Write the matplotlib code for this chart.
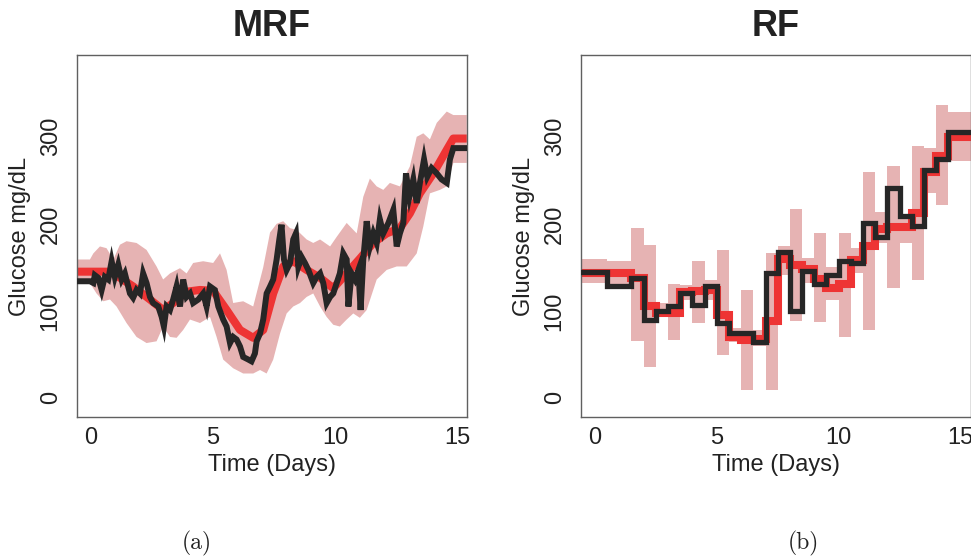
import matplotlib
matplotlib.use("Agg")
import numpy as np
import matplotlib.pyplot as plt

plt.rcParams["font.family"] = ["Liberation Sans", "DejaVu Sans"]

# MRF: smoothed mean, credible band (upper / lower edges), observed glucose
mrf_mean_t = [-0.59, 0.78, 1.19, 1.73, 2.42, 2.96, 3.37, 3.92, 4.47, 5.01,
              5.56, 6.11, 6.65, 7.06, 7.47, 7.88, 8.29, 8.84, 9.39, 9.93,
              10.48, 11.02, 11.57, 12.12, 12.66, 13.07, 13.48, 14.03, 14.58,
              14.85, 15.40]
mrf_mean = [145, 145, 138, 128, 113, 101, 109, 122, 124, 123,
            101, 78, 69, 78, 120, 151, 157, 147, 138, 126,
            143, 160, 178, 189, 195, 212, 235, 258, 285, 298, 298]

mrf_upper_t = [-0.59, -0.04, 0.10, 0.37, 0.64, 0.92, 1.19, 1.46, 1.87, 2.28,
               2.69, 2.96, 3.24, 3.65, 3.92, 4.19, 4.60, 5.01, 5.29, 5.56,
               5.83, 6.24, 6.65, 7.06, 7.34, 7.61, 7.88, 8.16, 8.43, 8.84,
               9.11, 9.39, 9.80, 10.07, 10.48, 10.89, 11.16, 11.43, 11.71, 11.98,
               12.25, 12.66, 13.07, 13.35, 13.62, 13.89, 14.17, 14.58, 14.85, 15.40]
mrf_upper = [159, 159, 166, 174, 172, 159, 176, 180, 178, 170,
             151, 136, 143, 149, 143, 155, 157, 155, 166, 147,
             109, 111, 105, 150, 190, 200, 203, 195, 193, 182,
             178, 182, 174, 185, 201, 189, 231, 252, 243, 239,
             247, 243, 266, 300, 304, 297, 316, 329, 325, 325]

mrf_lower_t = [-0.59, -0.04, 0.23, 0.51, 0.78, 1.05, 1.46, 1.87, 2.28, 2.69,
               2.96, 3.24, 3.51, 3.78, 4.06, 4.47, 4.88, 5.15, 5.42, 5.83,
               6.24, 6.65, 6.93, 7.20, 7.47, 7.75, 8.02, 8.29, 8.57, 8.84,
               9.11, 9.39, 9.66, 9.93, 10.20, 10.48, 10.75, 11.02, 11.30, 11.71,
               12.12, 12.53, 12.94, 13.35, 13.62, 13.89, 14.30, 14.58, 14.85, 15.40]
mrf_lower = [132, 132, 120, 111, 113, 105, 86, 70, 63, 65,
             82, 70, 69, 78, 90, 86, 93, 70, 44, 34,
             28, 28, 32, 28, 44, 74, 97, 105, 109, 116,
             120, 105, 93, 84, 82, 90, 97, 92, 101, 136,
             147, 151, 151, 166, 197, 235, 239, 243, 270, 270]

obs_t = [-0.59, -0.04, 0.10, 0.16, 0.30, 0.44, 0.57, 0.71, 0.85, 0.98,
         1.12, 1.26, 1.39, 1.60, 1.73, 1.87, 2.01, 2.14, 2.28, 2.42,
         2.55, 2.76, 2.90, 2.99, 3.10, 3.24, 3.37, 3.51, 3.65, 3.78,
         3.92, 4.06, 4.19, 4.40, 4.60, 4.74, 4.88, 5.08, 5.22, 5.42,
         5.56, 5.70, 5.83, 5.97, 6.11, 6.24, 6.45, 6.58, 6.72, 6.79,
         6.93, 7.06, 7.20, 7.34, 7.47, 7.61, 7.72, 7.81, 7.91, 8.02,
         8.16, 8.29, 8.40, 8.50, 8.63, 8.77, 8.91, 9.11, 9.25, 9.39,
         9.52, 9.66, 9.80, 9.93, 10.07, 10.20, 10.34, 10.48, 10.55, 10.68,
         10.82, 10.96, 11.05, 11.16, 11.30, 11.43, 11.57, 11.71, 11.84, 11.98,
         12.19, 12.39, 12.53, 12.66, 12.80, 12.91, 13.05, 13.21, 13.35, 13.48,
         13.65, 13.78, 13.96, 14.17, 14.37, 14.58, 14.71, 14.85, 15.40]
obs = [134, 134, 132, 141, 138, 124, 139, 136, 157, 139,
       153, 136, 143, 120, 115, 124, 120, 143, 132, 116,
       109, 105, 93, 82, 105, 101, 113, 128, 105, 136,
       116, 120, 109, 113, 120, 105, 128, 124, 105, 90,
       82, 63, 70, 67, 59, 47, 44, 42, 51, 65,
       74, 90, 120, 128, 136, 159, 182, 199, 159, 147,
       155, 182, 189, 151, 162, 155, 147, 132, 139, 143,
       132, 109, 116, 120, 132, 143, 166, 159, 105, 143,
       136, 147, 101, 159, 203, 174, 189, 178, 205, 189,
       201, 216, 174, 189, 201, 258, 231, 251, 224, 247,
       274, 254, 264, 258, 251, 247, 274, 287, 287]

# RF: piecewise constant over half-day blocks
rf_edges = [-0.6, 0.5, 1.0, 1.5, 2.0, 2.5, 3.0, 3.5, 4.0, 4.5, 5.0,
            5.5, 6.0, 6.5, 7.0, 7.5, 8.0, 8.5, 9.0, 9.5, 10.0,
            10.5, 11.0, 11.5, 12.0, 12.5, 13.0, 13.5, 14.0, 14.5, 15.5]
rf_mean = [143, 143, 143, 138, 105, 98, 98, 122, 123, 124,
           95, 70, 67, 68, 88, 160, 153, 148, 137, 126,
           131, 158, 174, 194, 196, 196, 212, 259, 278, 300]
rf_upper = [159, 157, 157, 195, 176, 109, 131, 130, 157, 136,
            170, 80, 124, 78, 167, 174, 217, 161, 189, 150,
            189, 172, 260, 214, 267, 208, 290, 287, 336, 329]
rf_lower = [132, 130, 130, 65, 36, 93, 67, 112, 86, 112,
            49, 64, 9, 60, 9, 141, 88, 132, 87, 113,
            70, 143, 78, 178, 126, 178, 136, 235, 222, 272]
rf_obs = [145, 129, 129, 138, 90, 100, 106, 120, 107, 128,
          86, 74, 74, 64, 143, 168, 100, 146, 131, 141,
          157, 155, 201, 185, 241, 209, 197, 262, 274, 306]

PINK = "#E6B3B3"
RED = "#EE3434"
DARK = "#262626"

fig = plt.figure(figsize=(9.71, 5.58), dpi=100)
ax1 = fig.add_axes([77 / 971, 141 / 558, 390 / 971, 362 / 558])
ax2 = fig.add_axes([581 / 971, 141 / 558, 389.5 / 971, 362 / 558])


def style_axes(ax, title):
    ax.set_xlim(-0.57, 15.41)
    ax.set_ylim(-22, 394)
    ax.set_xticks([0, 5, 10, 15])
    ax.set_yticks([0, 100, 200, 300])
    ax.tick_params(length=0, labelsize=17, colors="#222222")
    ax.tick_params(axis="x", pad=7)
    ax.tick_params(axis="y", pad=11, labelrotation=90)
    for lab in ax.get_yticklabels():
        lab.set_va("center")
    for sp in ax.spines.values():
        sp.set_color("#606060")
        sp.set_linewidth(1.0)
    ax.set_xlabel("Time (Days)", fontsize=17, color="#222222", labelpad=4)
    ax.set_ylabel("Glucose mg/dL", fontsize=17, color="#222222", labelpad=6)
    ax.set_title(title, fontsize=26, fontweight="bold", color="#222222", pad=14)


# MRF panel
band_x = np.concatenate([mrf_upper_t, mrf_lower_t[::-1]])
band_y = np.concatenate([mrf_upper, mrf_lower[::-1]])
ax1.fill(band_x, band_y, color=PINK, lw=0, zorder=1)
ax1.plot(mrf_mean_t, mrf_mean, color=RED, lw=5.8, solid_capstyle="butt", zorder=2)
ax1.plot(obs_t, obs, color=DARK, lw=4.3, solid_joinstyle="miter", zorder=3)
style_axes(ax1, "MRF")

# RF panel
ax2.stairs(rf_upper, rf_edges, baseline=rf_lower, fill=True, color=PINK, lw=0, zorder=1)
ax2.stairs(rf_mean, rf_edges, baseline=None, color=RED, lw=5.8, zorder=2)
ax2.stairs(rf_obs, rf_edges, baseline=None, color=DARK, lw=3.8, zorder=3)
style_axes(ax2, "RF")

fig.text(197 / 971, 1 - 543 / 558, "(a)", family="cmr10", fontsize=17,
         ha="center", va="center", color="#222222")
fig.text(803 / 971, 1 - 543 / 558, "(b)", family="cmr10", fontsize=17,
         ha="center", va="center", color="#222222")

fig.savefig("out.png", dpi=100)
